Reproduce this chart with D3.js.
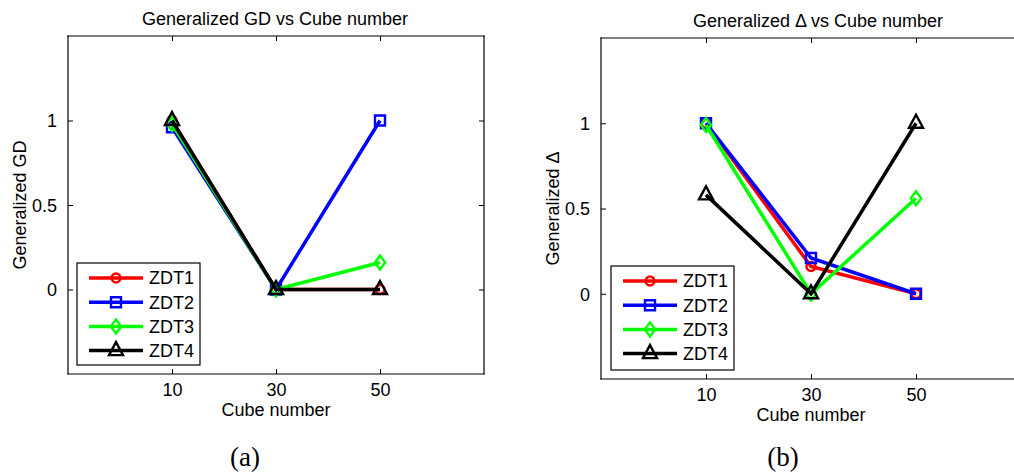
<!DOCTYPE html>
<html>
<head>
<meta charset="utf-8">
<script src="https://cdn.jsdelivr.net/npm/d3@7"></script>
<style>
  html, body { margin: 0; padding: 0; background: #fff; overflow: hidden; }
  svg { display: block; }
  text { font-family: "Liberation Sans", Arial, Helvetica, sans-serif; fill: #000; }
</style>
</head>
<body>
<svg id="fig" width="1014" height="475" viewBox="0 0 1014 475"></svg>
<script>
// ---- data ----
const cubeNumbers = [10, 30, 50];
const seriesNames = ["ZDT1", "ZDT2", "ZDT3", "ZDT4"];

// Generalized GD per cube number
const gdZDT1 = [1.00, 0.00, 0.00];
const gdZDT2 = [0.96, 0.00, 1.00];
const gdZDT3 = [0.98, 0.00, 0.16];
const gdZDT4 = [1.00, 0.00, 0.00];

// Generalized Delta per cube number
const deltaZDT1 = [1.00, 0.16, 0.00];
const deltaZDT2 = [1.00, 0.21, 0.00];
const deltaZDT3 = [0.99, 0.00, 0.56];
const deltaZDT4 = [0.58, 0.00, 1.00];

const xTickValues = [10, 30, 50];
const xTickLabels = ["10", "30", "50"];
const yTickValues = [0, 0.5, 1];
const yTickLabels = ["0", "0.5", "1"];

const xDomain = [-10, 70];
const yDomain = [-0.5, 1.5];

// ---- styles ----
const W = 1014, H = 475;
const colors = { ZDT1: "#ff0000", ZDT2: "#0000ff", ZDT3: "#00ff00", ZDT4: "#000000" };
const markers = { ZDT1: "circle", ZDT2: "square", ZDT3: "diamond", ZDT4: "triangle" };
const lineWidth = 3.5;
const markerStroke = 2.4;

function markerPath(kind) {
  switch (kind) {
    case "circle": {
      const r = 4.5;
      return `M${r},0A${r},${r} 0 1,1 ${-r},0A${r},${r} 0 1,1 ${r},0Z`;
    }
    case "square": {
      const s = 5;
      return `M${-s},${-s}L${s},${-s}L${s},${s}L${-s},${s}Z`;
    }
    case "diamond":
      return "M0,-7L5.2,0L0,7L-5.2,0Z";
    case "triangle":
      return "M0,-8.5L7,4.5L-7,4.5Z";
  }
}

const svg = d3.select("#fig");

function drawPanel(cfg) {
  const { left, top, right, bottom } = cfg.box;
  const x = d3.scaleLinear().domain(xDomain).range([left, right]);
  const y = d3.scaleLinear().domain(yDomain).range([bottom, top]);
  const g = svg.append("g");

  // axes frame: sides lying inside the figure
  const sides = [
    [left, top, Math.min(right, W), top],
    [left, bottom, Math.min(right, W), bottom],
    [left, top, left, bottom]
  ];
  if (right <= W) sides.push([right, top, right, bottom]);
  g.selectAll("line.frame").data(sides).join("line")
    .attr("class", "frame")
    .attr("x1", d => d[0]).attr("y1", d => d[1])
    .attr("x2", d => d[2]).attr("y2", d => d[3])
    .attr("stroke", "#000").attr("stroke-width", 1.2)
    .attr("stroke-linecap", "square");

  // inward ticks on all sides
  const tickLen = 5;
  const axisBottom = d3.axisBottom(x).tickValues(xTickValues)
    .tickSizeInner(-tickLen).tickSizeOuter(0)
    .tickFormat((d, i) => xTickLabels[i]);
  const axisTop = d3.axisTop(x).tickValues(xTickValues)
    .tickSizeInner(-tickLen).tickSizeOuter(0).tickFormat("");
  const axisLeft = d3.axisLeft(y).tickValues(yTickValues)
    .tickSizeInner(-tickLen).tickSizeOuter(0)
    .tickFormat((d, i) => yTickLabels[i]).tickPadding(tickLen + 6);
  const axisRight = d3.axisRight(y).tickValues(yTickValues)
    .tickSizeInner(-tickLen).tickSizeOuter(0).tickFormat("");

  const styleAxis = sel => {
    sel.select(".domain").remove();
    sel.selectAll("line").attr("stroke", "#000").attr("stroke-width", 1);
    sel.selectAll("text").attr("font-size", 18).attr("font-family", "Liberation Sans, Arial, sans-serif").attr("fill", "#000");
  };
  g.append("g").attr("transform", `translate(0,${bottom})`).call(axisBottom).call(styleAxis)
    .selectAll("text").attr("dy", null).attr("y", 22);
  g.append("g").attr("transform", `translate(0,${top})`).call(axisTop).call(styleAxis);
  g.append("g").attr("transform", `translate(${left},0)`).call(axisLeft).call(styleAxis)
    .selectAll("text").attr("dy", "0.36em");
  if (right <= W) {
    g.append("g").attr("transform", `translate(${right},0)`).call(axisRight).call(styleAxis);
  }

  // title
  g.append("text")
    .attr("x", (left + right) / 2 + cfg.titleShift).attr("y", top - 11)
    .attr("text-anchor", "middle").attr("font-size", 18)
    .text(cfg.title);

  // axis labels
  g.append("text")
    .attr("x", (left + right) / 2).attr("y", bottom + 42)
    .attr("text-anchor", "middle").attr("font-size", 18)
    .text("Cube number");
  g.append("text")
    .attr("transform", `translate(${left - 42},${(top + bottom) / 2}) rotate(-90)`)
    .attr("text-anchor", "middle").attr("font-size", 18)
    .text(cfg.yLabel);

  // series: line then markers, in series order
  const line = d3.line().x((d, i) => x(cubeNumbers[i])).y(d => y(d));
  seriesNames.forEach((name, si) => {
    const vals = cfg.series[si];
    const sg = g.append("g");
    sg.append("path")
      .attr("d", line(vals))
      .attr("fill", "none").attr("stroke", colors[name])
      .attr("stroke-width", lineWidth).attr("stroke-linejoin", "miter");
    sg.selectAll("path.mk").data(vals).join("path")
      .attr("class", "mk")
      .attr("transform", (d, i) => `translate(${x(cubeNumbers[i])},${y(d)})`)
      .attr("d", markerPath(markers[name]))
      .attr("fill", "none").attr("stroke", colors[name]).attr("stroke-width", markerStroke);
  });

  // legend
  const L = cfg.legend;
  const lg = g.append("g");
  lg.append("rect")
    .attr("x", L.x).attr("y", L.y).attr("width", L.w).attr("height", L.h)
    .attr("fill", "#fff").attr("stroke", "#000").attr("stroke-width", 1.2);
  seriesNames.forEach((name, i) => {
    const ry = L.y + 15 + i * 24.2;
    lg.append("line")
      .attr("x1", L.x + 12).attr("x2", L.x + 66).attr("y1", ry).attr("y2", ry)
      .attr("stroke", colors[name]).attr("stroke-width", lineWidth);
    lg.append("path")
      .attr("transform", `translate(${L.x + 39},${ry})`)
      .attr("d", markerPath(markers[name]))
      .attr("fill", "none").attr("stroke", colors[name]).attr("stroke-width", markerStroke);
    lg.append("text")
      .attr("x", L.x + 72).attr("y", ry).attr("dy", "0.36em")
      .attr("font-size", 18).text(name);
  });

  // subfigure caption
  svg.append("text")
    .attr("x", cfg.caption.x).attr("y", 466)
    .attr("text-anchor", "middle")
    .attr("font-size", 27)
    .style("font-family", "'Liberation Serif', 'DejaVu Serif', serif")
    .text(cfg.caption.text);
}

drawPanel({
  box: { left: 68, top: 36, right: 484, bottom: 374 },
  title: "Generalized GD vs Cube number",
  titleShift: -1,
  yLabel: "Generalized GD",
  series: [gdZDT1, gdZDT2, gdZDT3, gdZDT4],
  legend: { x: 77, y: 263, w: 123, h: 102 },
  caption: { x: 245, text: "(a)" }
});

drawPanel({
  box: { left: 601, top: 38, right: 1021, bottom: 379 },
  title: "Generalized \u0394 vs Cube number",
  titleShift: 7,
  yLabel: "Generalized \u0394",
  series: [deltaZDT1, deltaZDT2, deltaZDT3, deltaZDT4],
  legend: { x: 611, y: 266, w: 123, h: 104 },
  caption: { x: 783, text: "(b)" }
});
</script>
</body>
</html>
